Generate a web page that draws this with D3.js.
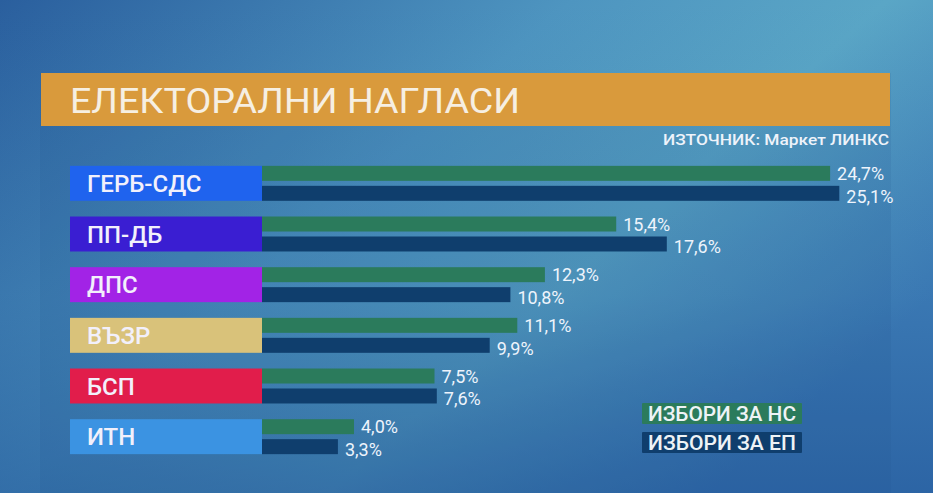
<!DOCTYPE html>
<html>
<head>
<meta charset="utf-8">
<script src="https://cdn.jsdelivr.net/npm/d3@7"></script>
<style>
  body { margin: 0; background: #2f6aa6; overflow: hidden; }
  svg { display: block; }
</style>
</head>
<body>
<div id="chart"></div>
<script>
// data
var titleText = "ЕЛЕКТОРАЛНИ НАГЛАСИ";
var sourceText = "ИЗТОЧНИК: Маркет ЛИНКС";
var parties = ["ГЕРБ-СДС", "ПП-ДБ", "ДПС", "ВЪЗР", "БСП", "ИТН"];
var partyColors = ["#1f63ee", "#3a1ed2", "#a223e6", "#d9c27a", "#e11d4b", "#3b93e2"];
var seriesNames = ["ИЗБОРИ ЗА НС", "ИЗБОРИ ЗА ЕП"];
var seriesColors = ["#2b7b5c", "#0f3e6d"];
var valuesNS = [24.7, 15.4, 12.3, 11.1, 7.5, 4.0];
var valuesEP = [25.1, 17.6, 10.8, 9.9, 7.6, 3.3];

var width = 933, height = 493;

var svg = d3.select("#chart").append("svg")
    .attr("width", width)
    .attr("height", height);

// background gradients
var defs = svg.append("defs");
var bg = defs.append("linearGradient")
    .attr("id", "bg")
    .attr("x1", "0").attr("y1", "0").attr("x2", "1").attr("y2", "0.6");
bg.append("stop").attr("offset", "0%").attr("stop-color", "#2a5f9e");
bg.append("stop").attr("offset", "45%").attr("stop-color", "#4e95c0");
bg.append("stop").attr("offset", "70%").attr("stop-color", "#5aa6c6");
bg.append("stop").attr("offset", "100%").attr("stop-color", "#3f7fb8");

var shade = defs.append("linearGradient")
    .attr("id", "shade")
    .attr("x1", "0").attr("y1", "0").attr("x2", "0").attr("y2", "1");
shade.append("stop").attr("offset", "0%").attr("stop-color", "#1d4f95").attr("stop-opacity", 0);
shade.append("stop").attr("offset", "60%").attr("stop-color", "#1d4f95").attr("stop-opacity", 0.15);
shade.append("stop").attr("offset", "100%").attr("stop-color", "#1d4f95").attr("stop-opacity", 0.55);

svg.append("rect").attr("width", width).attr("height", height).attr("fill", "url(#bg)");
svg.append("rect").attr("width", width).attr("height", height).attr("fill", "url(#shade)");

// panel behind the chart
svg.append("rect")
    .attr("x", 40).attr("y", 73)
    .attr("width", 851).attr("height", height - 73)
    .attr("fill", "#1f4f8a")
    .attr("opacity", 0.12);

// title band
svg.append("rect")
    .attr("x", 41).attr("y", 73)
    .attr("width", 849).attr("height", 53)
    .attr("fill", "#d99a3c");

svg.append("text")
    .attr("x", 70).attr("y", 113)
    .attr("font-family", "Roboto")
    .attr("font-size", "35px")
    .attr("fill", "#f6efe2")
    .attr("textLength", 450)
    .attr("lengthAdjust", "spacingAndGlyphs")
    .text(titleText);

svg.append("text")
    .attr("x", 663).attr("y", 145)
    .attr("font-family", "Roboto")
    .attr("font-size", "14px")
    .attr("font-weight", "500")
    .attr("fill", "#eef3fa")
    .attr("textLength", 226)
    .attr("lengthAdjust", "spacingAndGlyphs")
    .text(sourceText);

// scales
var x = d3.scaleLinear()
    .domain([0, 30])
    .range([262, 262 + 690]);

var y = d3.scaleBand()
    .domain(parties)
    .range([158, 462])
    .paddingInner(0.31)
    .paddingOuter(0.155);

var ySub = d3.scaleBand()
    .domain(seriesNames)
    .range([0, y.bandwidth()])
    .paddingInner(0.25);

var rows = parties.map(function (p, i) {
    return { party: p, color: partyColors[i], values: [valuesNS[i], valuesEP[i]] };
});

var row = svg.selectAll(".row")
    .data(rows)
    .join("g")
    .attr("class", "row")
    .attr("transform", function (d) { return "translate(0," + y(d.party) + ")"; });

// party label boxes
row.append("rect")
    .attr("x", 70)
    .attr("y", 0)
    .attr("width", 192)
    .attr("height", y.bandwidth())
    .attr("fill", function (d) { return d.color; });

row.append("text")
    .attr("x", 87)
    .attr("y", y.bandwidth() / 2)
    .attr("dy", "0.36em")
    .attr("font-family", "Roboto")
    .attr("font-size", "24px")
    .attr("font-weight", "500")
    .attr("fill", "#f2f0fb")
    .text(function (d) { return d.party; });

// bars
row.selectAll(".bar")
    .data(function (d) {
        return d.values.map(function (v, j) { return { series: seriesNames[j], value: v, color: seriesColors[j] }; });
    })
    .join("rect")
    .attr("class", "bar")
    .attr("x", x(0))
    .attr("y", function (d) { return ySub(d.series); })
    .attr("width", function (d) { return x(d.value) - x(0); })
    .attr("height", ySub.bandwidth())
    .attr("fill", function (d) { return d.color; });

// value labels: the lower one sits a little below its bar so they do not collide
row.selectAll(".val")
    .data(function (d) {
        return d.values.map(function (v, j) { return { series: seriesNames[j], value: v, idx: j }; });
    })
    .join("text")
    .attr("class", "val")
    .attr("x", function (d) { return x(d.value) + 7; })
    .attr("y", function (d) { return ySub(d.series) + ySub.bandwidth() + (d.idx ? 2 : -1); })
    .attr("font-family", "Roboto")
    .attr("font-size", "18px")
    .attr("fill", "#eef4fc")
    .text(function (d) { return d.value.toFixed(1).replace(".", ",") + "%"; });

// legend
var legend = svg.selectAll(".legend")
    .data(seriesNames)
    .join("g")
    .attr("class", "legend")
    .attr("transform", function (d, i) { return "translate(642," + (403 + i * 29) + ")"; });

legend.append("rect")
    .attr("width", 160)
    .attr("height", 21)
    .attr("rx", 1)
    .attr("fill", function (d, i) { return seriesColors[i]; });

legend.append("text")
    .attr("x", 6)
    .attr("y", 18)
    .attr("font-family", "Roboto")
    .attr("font-size", "20px")
    .attr("font-weight", "500")
    .attr("fill", "#eef3f6")
    .attr("textLength", 148)
    .attr("lengthAdjust", "spacingAndGlyphs")
    .text(function (d) { return d; });
</script>
</body>
</html>
